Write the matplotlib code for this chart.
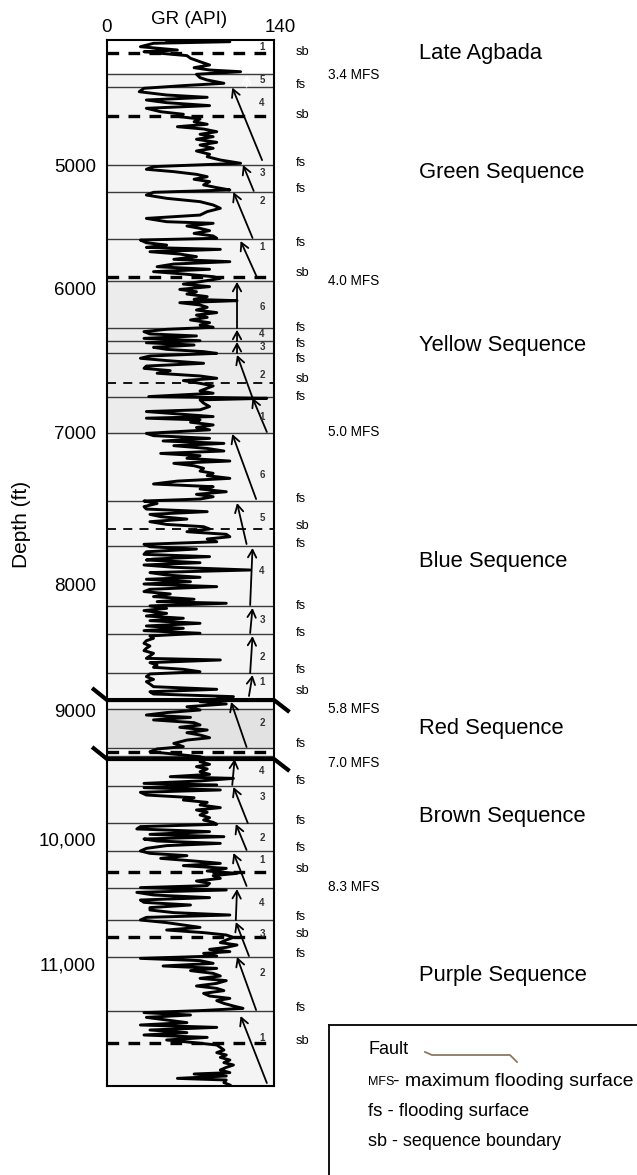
# GR log with sequence stratigraphy picks (Agbada section)
import numpy as np
import matplotlib.pyplot as plt
from matplotlib.lines import Line2D
from matplotlib.transforms import blended_transform_factory, ScaledTranslation

plt.rcParams['font.family'] = ['Liberation Sans', 'DejaVu Sans']

# gamma ray curve: depth (ft) and GR (API)
gr_depth = [
    3975, 3989, 4002, 4030, 4057, 4071, 4084, 4103, 4125, 4153,
    4180, 4202, 4221, 4235, 4256, 4284, 4303, 4330, 4349, 4371,
    4399, 4426, 4445, 4467, 4489, 4513, 4535, 4563, 4584, 4604,
    4623, 4645, 4666, 4686, 4705, 4727, 4748, 4768, 4789, 4814,
    4836, 4863, 4885, 4912, 4932, 4959, 4986, 5013, 5035, 5054,
    5076, 5095, 5116, 5135, 5162, 5184, 5203, 5222, 5244, 5271,
    5298, 5325, 5352, 5379,
    5407, 5434, 5461, 5474, 5496, 5515, 5534, 5556, 5577, 5596,
    5610, 5632, 5651, 5670, 5686, 5705, 5724, 5745, 5767, 5786,
    5805, 5827, 5848, 5867, 5886, 5908, 5922, 5949, 5968, 5989,
    6010, 6026, 6042, 6060, 6079, 6088, 6102, 6118, 6134, 6153,
    6171, 6188, 6204, 6222, 6241, 6257, 6273, 6287, 6303, 6319,
    6333, 6350, 6366, 6380, 6396, 6412, 6426, 6442, 6454, 6472,
    6488, 6504, 6523, 6542, 6558, 6574, 6592, 6611, 6627, 6643,
    6662, 6680, 6696,
    6715, 6731, 6754, 6766, 6777, 6800, 6823, 6846, 6858, 6877,
    6893, 6904, 6916, 6932, 6951, 6969, 6985, 7009, 7024, 7042,
    7059, 7075, 7090, 7108, 7125, 7141, 7156, 7173, 7191, 7206,
    7222, 7239, 7257, 7272, 7287, 7305, 7323, 7342, 7360, 7375,
    7393, 7410, 7426, 7441, 7454, 7470, 7491, 7507, 7524, 7542,
    7557, 7573, 7590, 7608, 7623, 7638, 7656, 7673, 7689, 7704,
    7722, 7739, 7755, 7770, 7788, 7805, 7820, 7836,
    7842, 7860, 7875, 7890, 7908, 7925, 7941, 7956, 7969, 7985,
    8000, 8021, 8042, 8060, 8079, 8100, 8121, 8140, 8153, 8174,
    8193, 8211, 8233, 8254, 8272, 8291, 8312, 8333, 8352, 8370,
    8391, 8412, 8431, 8450, 8471, 8492, 8510, 8529, 8550, 8571,
    8590, 8603, 8624, 8643, 8661, 8677, 8696, 8714, 8735, 8757,
    8775, 8794, 8815, 8836, 8855, 8873, 8894, 8934, 8952, 8974,
    9000, 9020, 9039, 9057, 9077, 9098, 9116, 9134, 9155, 9176,
    9194, 9215, 9233, 9259, 9284, 9302, 9323, 9344, 9362, 9380,
    9401, 9421, 9439, 9457, 9478, 9499, 9517, 9530, 9550, 9569,
    9581, 9602, 9620, 9638, 9659, 9680, 9698, 9716, 9736, 9757,
    9775, 9793, 9814, 9835, 9853, 9871, 9886, 9904, 9922, 9943,
    9964, 9982, 10000, 10016, 10035, 10053, 10075, 10096, 10115, 10133,
    10155, 10176, 10195, 10213, 10235, 10256, 10275, 10293, 10315, 10336,
    10355, 10373, 10389, 10408, 10427, 10448, 10469, 10488, 10507, 10528,
    10549,
    10568, 10589, 10608, 10627, 10648, 10669, 10688, 10707, 10728, 10749,
    10768, 10787, 10808, 10829, 10848, 10867, 10883, 10901, 10915, 10936,
    10955, 10973, 10995, 11016, 11035, 11053, 11075, 11096, 11115, 11133,
    11155, 11176, 11195, 11213, 11235, 11256, 11275, 11293, 11315, 11336,
    11355, 11373, 11389, 11408, 11427, 11448, 11469, 11488, 11507, 11528,
    11549, 11568, 11587, 11608, 11629, 11648, 11667, 11688, 11709, 11728,
    11747, 11768, 11789, 11808, 11827, 11848, 11869, 11880, 11896, 11915,
    11928, 11949, 11968,
]
gr_api = [
    50, 103, 39, 28, 59, 31, 45, 67, 70, 78,
    86, 73, 86, 112, 75, 78, 84, 98, 64, 31,
    27, 50, 84, 33, 50, 86, 33, 45, 64, 61,
    78, 73, 84, 59, 81, 92, 78, 89, 75, 92,
    78, 89, 75, 86, 84, 95, 112, 39, 33, 56,
    75, 84, 73, 86, 81, 92, 103, 39, 33, 50,
    78, 89, 95, 84,
    78, 33, 50, 89, 67, 78, 86, 73, 89, 92,
    28, 33, 50, 33, 95, 36, 61, 75, 56, 103,
    56, 42, 86, 39, 64, 89, 95, 78, 64, 86,
    61, 75, 67, 84, 73, 109, 61, 78, 84, 75,
    92, 75, 84, 70, 86, 78, 89, 50, 31, 36,
    75, 31, 78, 33, 73, 39, 50, 81, 92, 36,
    28, 50, 81, 33, 31, 53, 42, 78, 92, 64,
    78, 89, 84,
    78, 89, 35, 134, 78, 81, 86, 78, 33, 64,
    89, 33, 78, 70, 89, 75, 86, 33, 39, 86,
    47, 98, 56, 84, 98, 45, 78, 67, 103, 56,
    73, 81, 78, 89, 84, 103, 59, 39, 89, 78,
    100, 75, 89, 78, 31, 42, 31, 33, 84, 36,
    45, 67, 36, 50, 81, 86, 67, 100, 103, 84,
    92, 31, 36, 75, 33, 31, 86, 39,
    33, 78, 31, 56, 120, 36, 50, 78, 33, 70,
    31, 92, 36, 31, 53, 39, 73, 42, 100, 36,
    50, 31, 50, 33, 64, 36, 78, 33, 64, 31,
    78, 36, 39, 33, 31, 36, 33, 31, 39, 36,
    33, 95, 36, 42, 39, 64, 78, 36, 33, 39,
    33, 36, 39, 92, 36, 39, 106, 78, 100, 67,
    78, 50, 33, 70, 39, 73, 78, 61, 84, 67,
    78, 86, 67, 56, 64, 42, 36, 59, 78, 84,
    78, 86, 75, 84, 78, 86, 53, 106, 78, 31,
    92, 31, 95, 28, 33, 73, 64, 84, 78, 95,
    75, 84, 78, 86, 81, 89, 92, 28, 25, 86,
    36, 98, 31, 42, 95, 50, 33, 28, 36, 67,
    45, 73, 95, 64, 100, 84, 109, 89, 95, 75,
    86, 84, 28, 100, 25, 39, 86, 28, 31, 70,
    36,
    36, 56, 103, 33, 28, 50, 64, 78, 50, 81,
    100, 106, 100, 95, 109, 100, 86, 103, 81, 92,
    28, 78, 89, 47, 92, 70, 89, 95, 78, 100,
    92, 75, 92, 98, 81, 86, 103, 92, 98, 106,
    114, 78, 31, 70, 33, 50, 67, 28, 92, 36,
    67, 31, 84, 50, 73, 92, 95, 98, 92, 100,
    95, 103, 98, 106, 100, 95, 103, 73, 100, 59,
    100, 98, 103,
]

# surfaces (ft)
solid_surfaces = [4254, 4360, 5000, 5220, 5602, 5943, 6278, 6368, 6451, 6756,
                  7005, 7454, 7750, 8175, 8397, 8707, 8992, 9295, 9357, 9589,
                  9876, 10096, 10392, 10648, 10944, 11376]
sb_major = [4082, 4598, 5911, 9326, 10264, 10784, 11632]
sb_minor = [6659, 7638]
fault_depths = [8921, 9380]

# labels along the right of the track
pick_labels = ['sb', 'fs', 'sb', 'fs', 'fs', 'fs', 'sb', 'fs', 'fs', 'fs',
               'sb', 'fs', 'fs', 'sb', 'fs', 'fs', 'fs', 'fs', 'sb', 'fs',
               'fs', 'fs', 'fs', 'sb', 'fs', 'sb', 'fs', 'fs', 'sb']
pick_depths = [4073, 4344, 4590, 4984, 5195, 5634, 5878, 6278, 6389, 6493,
               6632, 6756, 7441, 7619, 7737, 8175, 8389, 8683, 8849, 9264,
               9550, 9860, 10072, 10240, 10624, 10760, 10920, 11352, 11616]
mfs_labels = ['3.4 MFS', '4.0 MFS', '5.0 MFS', '5.8 MFS', '7.0 MFS', '8.3 MFS']
mfs_depths = [4262, 5943, 7000, 8992, 9411, 10384]
sequences = ['Late Agbada', 'Green Sequence', 'Yellow Sequence', 'Blue Sequence',
             'Red Sequence', 'Brown Sequence', 'Purple Sequence']
sequence_depths = [4082, 5057, 6396, 7855, 9147, 9822, 11088]

# parasequence numbers
para_numbers = ['1', '5', '4', '3', '2', '1', '6', '4', '3', '2', '1', '6', '5',
                '4', '3', '2', '1', '2', '4', '3', '2', '1', '4', '3', '2', '1']
para_depths = [4032, 4303, 4492, 5065, 5293, 5667, 6132, 6319, 6409, 6604, 6895,
               7283, 7566, 7914, 8286, 8580, 8778, 9101, 9473, 9674, 9992,
               10168, 10512, 10760, 11072, 11592]

# stacking arrows: base depth, base GR, tip depth, tip GR
arrow_base_depth = [4960, 5211, 5593, 5919, 6278, 6368, 6451, 7000, 6763, 7441,
                    7737, 8167, 8389, 8707, 8889, 9287, 9581, 9876, 10088, 10376,
                    10648, 10936, 11368, 11952]
arrow_base_gr = [130, 123, 122, 126, 109, 109, 109, 134, 122, 125,
                 117, 120, 120, 120, 119, 117, 105, 118, 117, 117,
                 108, 119, 125, 134]
arrow_tip_depth = [4365, 5000, 5220, 5618, 5950, 6290, 6375, 6763, 6465, 7013,
                   7467, 7763, 8190, 8413, 8722, 8936, 9380, 9597, 9884, 10112,
                   10400, 10664, 10944, 11416]
arrow_tip_gr = [105, 114, 106, 112, 109, 109, 109, 122, 109, 105,
                109, 122, 122, 122, 122, 104, 107, 106, 108, 106,
                109, 108, 109, 112]

# depth axis is stretched differently between the depth marks
scale_depth = np.array([3975, 5000, 6000, 7000, 8000, 9000, 10000, 11000, 11976], float)
scale_track = np.array([40, 165, 288, 432, 584, 710, 839, 964, 1086], float)


def depth_to_track(d):
    d = np.asarray(d, dtype=float)
    t = np.interp(d, scale_depth, scale_track)
    s0 = (scale_track[1] - scale_track[0]) / (scale_depth[1] - scale_depth[0])
    s1 = (scale_track[-1] - scale_track[-2]) / (scale_depth[-1] - scale_depth[-2])
    t = np.where(d < scale_depth[0], scale_track[0] + (d - scale_depth[0]) * s0, t)
    t = np.where(d > scale_depth[-1], scale_track[-1] + (d - scale_depth[-1]) * s1, t)
    return t


def track_to_depth(t):
    t = np.asarray(t, dtype=float)
    d = np.interp(t, scale_track, scale_depth)
    s0 = (scale_depth[1] - scale_depth[0]) / (scale_track[1] - scale_track[0])
    s1 = (scale_depth[-1] - scale_depth[-2]) / (scale_track[-1] - scale_track[-2])
    d = np.where(t < scale_track[0], scale_depth[0] + (t - scale_track[0]) * s0, d)
    d = np.where(t > scale_track[-1], scale_depth[-1] + (t - scale_track[-1]) * s1, d)
    return d


W, H = 637, 1175
fig = plt.figure(figsize=(W / 100, H / 100), dpi=100)
ax = fig.add_axes([107 / W, 1 - 1086 / H, 167 / W, 1046 / H])
ax.set_yscale('function', functions=(depth_to_track, track_to_depth))
ax.set_xlim(0, 140)
ax.set_ylim(11976, 3975)

# background shading of the track
ax.axhspan(3975, 4254, color='white', zorder=0)
ax.axhspan(4254, 11976, color='#f4f4f4', zorder=0)
ax.axhspan(5943, 7005, color='#ececec', zorder=0)
ax.axhspan(8992, 9295, color='#e2e2e2', zorder=0)
ax.axhspan(9295, 9357, color='#fafafa', zorder=0)

ax.hlines(solid_surfaces, 0, 140, colors='#3a3a3a', lw=1.0, zorder=1)
ax.hlines(sb_major, 0, 140, colors='black', lw=2.4, linestyles=(0, (3.5, 2.8)), zorder=1)
ax.hlines(sb_minor, 0, 140, colors='black', lw=1.3, linestyles=(0, (5, 4)), zorder=1)

ax.plot(gr_api, gr_depth, color='black', lw=2.1, zorder=3)

# faults cut through the track and step out on both sides
for fd in fault_depths:
    ax.plot([-12.5, 0, 140, 153],
            [track_to_depth(depth_to_track(fd) - 12), fd, fd,
             track_to_depth(depth_to_track(fd) + 12)],
            color='black', lw=3.0, clip_on=False, zorder=4, solid_capstyle='butt')

for bd, bg, td, tg in zip(arrow_base_depth, arrow_base_gr, arrow_tip_depth, arrow_tip_gr):
    ax.annotate('', xy=(tg, td), xytext=(bg, bd),
                arrowprops=dict(arrowstyle='->,head_length=0.55,head_width=0.3',
                                color='black', lw=1.3, shrinkA=0, shrinkB=0,
                                mutation_scale=10), zorder=5)
ax.annotate('', xy=(117, 4262), xytext=(117, 4358),
            arrowprops=dict(arrowstyle='->,head_length=0.55,head_width=0.3',
                            color='white', lw=1.3, shrinkA=0, shrinkB=0,
                            mutation_scale=10), zorder=5)

for n, d in zip(para_numbers, para_depths):
    ax.text(130, d, n, ha='center', va='center', fontsize=7, fontweight='bold',
            color='#333333', zorder=6)

for s in ax.spines.values():
    s.set_linewidth(1.5)

ax.set_yticks([5000, 6000, 7000, 8000, 9000, 10000, 11000])
ax.set_yticklabels(['5000', '6000', '7000', '8000', '9000', '10,000', '11,000'])
ax.yaxis.set_minor_locator(plt.NullLocator())
ax.tick_params(axis='y', length=0, pad=8, labelsize=13.5)
ax.xaxis.tick_top()
ax.set_xticks([0, 140])
ax.set_xticklabels(['0', '140'])
ax.tick_params(axis='x', length=0, pad=3, labelsize=13.5)
top_labels = ax.get_xticklabels()
top_labels[-1].set_transform(top_labels[-1].get_transform()
                             + ScaledTranslation(0.06, 0, fig.dpi_scale_trans))

fig.text(189 / W, 1 - 20 / H, 'GR (API)', ha='center', va='center', fontsize=13.5)
fig.text(22 / W, 1 - 524 / H, 'Depth (ft)', ha='center', va='center',
         rotation=90, fontsize=15)

tr = blended_transform_factory(fig.transFigure, ax.transData)
for lab, d in zip(pick_labels, pick_depths):
    ax.text(296 / W, d, lab, transform=tr, ha='left', va='center', fontsize=9.3)
for lab, d in zip(mfs_labels, mfs_depths):
    ax.text(328 / W, d, lab, transform=tr, ha='left', va='center', fontsize=9.8)
for lab, d in zip(sequences, sequence_depths):
    ax.text(419 / W, d, lab, transform=tr, ha='left', va='center', fontsize=15.8)

# key box in the lower right corner
fig.add_artist(Line2D([329 / W, 329 / W], [0, 1 - 1025 / H], color='black', lw=1.3))
fig.add_artist(Line2D([329 / W, 1], [1 - 1025 / H, 1 - 1025 / H], color='black', lw=1.3))
fig.add_artist(Line2D(np.array([425, 432, 510, 517]) / W,
                      1 - np.array([1052, 1055, 1055, 1062]) / H,
                      color='#8c7862', lw=1.3))
fig.text(368 / W, 1 - 1050 / H, 'Fault', ha='left', va='center', fontsize=13)
fig.text(368 / W, 1 - 1082 / H, 'MFS', ha='left', va='center', fontsize=9)
fig.text(393 / W, 1 - 1082 / H, '- maximum flooding surface', ha='left', va='center', fontsize=14)
fig.text(368 / W, 1 - 1112 / H, 'fs - flooding surface', ha='left', va='center', fontsize=13.3)
fig.text(368 / W, 1 - 1142 / H, 'sb - sequence boundary', ha='left', va='center', fontsize=13)

fig.savefig('out.png', dpi=100)
